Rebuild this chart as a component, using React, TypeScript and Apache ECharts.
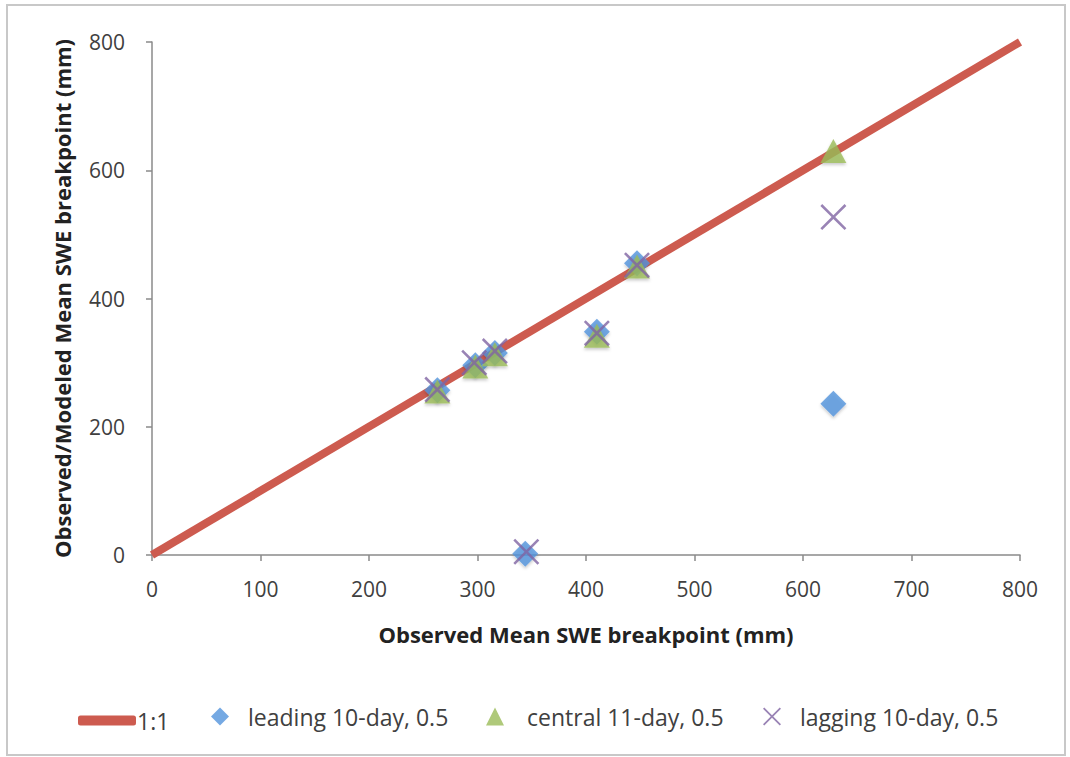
import React, { useEffect, useRef } from "react";
import * as echarts from "echarts";

const oneToOne: number[][] = [[0, 0], [800, 800]];
const leading: number[][] = [[263, 257], [298, 296], [316, 315], [344, 2], [410, 348], [447, 455], [628, 236]];
const central: number[][] = [[263, 255], [298, 294], [316, 313], [344, -2], [410, 342], [447, 450], [628, 630]];
const lagging: number[][] = [[263, 258], [297, 300], [316, 318], [345, 5], [410, 346], [447, 452], [628, 527]];

const seriesNames = ["1:1", "leading 10-day, 0.5", "central 11-day, 0.5", "lagging 10-day, 0.5"];
const xTitle = "Observed Mean SWE breakpoint (mm)";
const yTitle = "Observed/Modeled Mean SWE breakpoint (mm)";

const RED = "#CD5B4F";
const BLUE = "#5393DC";
const GREEN = "#9BBB59";
const PURPLE = "#8064A2";
const FONT = "Open Sans";

const X_PATH =
  "path://M0,0.7 L0.7,0 L5,4.3 L9.3,0 L10,0.7 L5.7,5 L10,9.3 L9.3,10 L5,5.7 L0.7,10 L0,9.3 L4.3,5 Z";

export default function App() {
  const ref = useRef<HTMLDivElement>(null);
  useEffect(() => {
    if (!ref.current) return;
    const chart = echarts.init(ref.current, null, { renderer: "svg" });
    const legendText = { fontFamily: FONT, fontSize: 23, color: "#404040" };
    const mkLegend = (name: string, left: number, textPad: number, extra: any = {}) => ({
      show: true,
      data: [name],
      left,
      top: 705,
      padding: 0,
      orient: "horizontal",
      itemWidth: 18,
      itemHeight: 18,
      selectedMode: false,
      textStyle: { ...legendText, padding: [0, 0, 0, textPad] },
      ...extra,
    });
    chart.setOption({
      animation: false,
      backgroundColor: "#ffffff",
      grid: { left: 152, right: 50, top: 42, bottom: 202, containLabel: false },
      graphic: [
        {
          type: "rect",
          shape: { x: 7, y: 5, width: 1058, height: 750 },
          style: { fill: "none", stroke: "#c8c8c8", lineWidth: 2 },
          silent: true,
        },
      ],
      legend: [
        mkLegend(seriesNames[0], 78, -4, {
          itemWidth: 58,
          itemHeight: 10,
          icon: "roundRect",
          top: 709,
          itemStyle: { color: RED },
        }),
        mkLegend(seriesNames[1], 211, 14),
        mkLegend(seriesNames[2], 486, 18),
        mkLegend(seriesNames[3], 763, 14),
      ],
      xAxis: {
        type: "value",
        min: 0,
        max: 800,
        interval: 100,
        splitLine: { show: false },
        axisLine: { show: true, lineStyle: { color: "#8a8a8a", width: 1.5 } },
        axisTick: { show: true, inside: false, length: 6, lineStyle: { color: "#8a8a8a", width: 1.5 } },
        axisLabel: { fontFamily: FONT, fontSize: 21, color: "#404040", margin: 23 },
        name: xTitle,
        nameLocation: "middle",
        nameGap: 68,
        nameTextStyle: { fontFamily: FONT, fontSize: 22, fontWeight: "bold", color: "#222" },
      },
      yAxis: {
        type: "value",
        min: 0,
        max: 800,
        interval: 200,
        splitLine: { show: false },
        axisLine: { show: true, lineStyle: { color: "#8a8a8a", width: 1.5 } },
        axisTick: { show: true, inside: false, length: 6, lineStyle: { color: "#8a8a8a", width: 1.5 } },
        axisLabel: { fontFamily: FONT, fontSize: 21, color: "#404040", margin: 27 },
        name: yTitle,
        nameLocation: "middle",
        nameGap: 79,
        nameTextStyle: { fontFamily: FONT, fontSize: 22, fontWeight: "bold", color: "#222" },
      },
      series: [
        {
          name: seriesNames[0],
          type: "line",
          data: oneToOne,
          symbol: "none",
          lineStyle: { color: RED, width: 8 },
          itemStyle: { color: RED },
          z: 1,
        },
        {
          name: seriesNames[1],
          type: "scatter",
          data: leading,
          symbol: "diamond",
          symbolSize: 26,
          itemStyle: { color: BLUE, shadowColor: "rgba(0,0,0,0.25)", shadowBlur: 3, shadowOffsetY: 2 },
          z: 2,
        },
        {
          name: seriesNames[2],
          type: "scatter",
          data: central,
          symbol: "triangle",
          symbolSize: [26, 24],
          itemStyle: { color: GREEN, shadowColor: "rgba(0,0,0,0.25)", shadowBlur: 3, shadowOffsetY: 2 },
          z: 3,
        },
        {
          name: seriesNames[3],
          type: "scatter",
          data: lagging,
          symbol: X_PATH,
          symbolSize: 26,
          itemStyle: { color: PURPLE },
          z: 4,
        },
      ],
    });
    return () => chart.dispose();
  }, []);
  return (
    <div
      ref={ref}
      style={{ position: "fixed", left: 0, top: 0, width: 1070, height: 757, background: "#fff" }}
    />
  );
}
